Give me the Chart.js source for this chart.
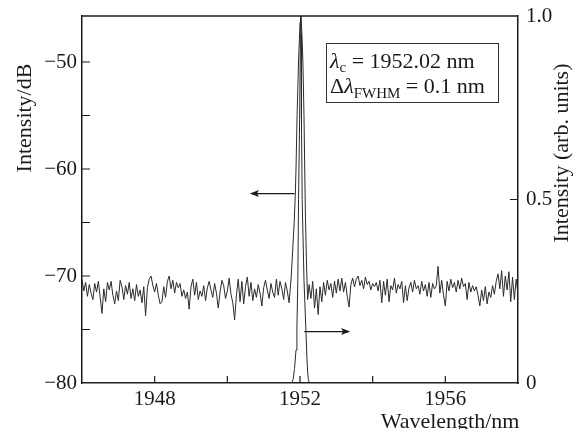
<!DOCTYPE html>
<html><head><meta charset="utf-8">
<script src="https://cdn.jsdelivr.net/npm/chart.js@4.4.0/dist/chart.umd.min.js"></script>
<style>html,body{margin:0;padding:0;background:#fff;}canvas{display:block;}</style>
</head><body>
<canvas id="c" width="573" height="429"></canvas>
<script>
// ---- data ----
const noiseStep = 0.05;
const noiseLeftStart = 1946.00;
const noiseLeftDb = [
-70.3,-71.4,-70.6,-71.9,-70.8,-71.6,-72.2,-70.7,-71.5,-70.5,
-72.0,-73.5,-71.2,-72.4,-70.6,-71.3,-70.5,-71.8,-72.6,-71.4,
-72.3,-70.4,-71.0,-72.2,-70.9,-71.7,-70.6,-72.1,-71.2,-72.3,
-70.8,-71.9,-71.3,-72.5,-71.0,-73.7,-71.1,-70.3,-70.0,-70.9,
-71.5,-70.7,-71.8,-72.6,-72.4,-71.0,-72.0,-70.5,-70.0,-71.2,
-70.4,-71.6,-70.6,-71.1,-70.7,-71.9,-71.3,-72.1,-71.5,-73.1,
-71.0,-70.3,-71.8,-70.6,-72.2,-71.4,-71.9,-70.9,-72.3,-71.1,
-70.5,-71.3,-72.0,-70.7,-71.6,-73.0,-71.5,-70.4,-70.9,-72.1,
-71.4,-70.2,-71.7,-72.5,-74.1,-71.8,-70.3,-72.4,-70.5,-72.6,
-71.0,-70.1,-71.9,-70.6,-72.3,-71.2,-72.0,-70.8,-71.6,-72.8,
-71.1,-70.4,-71.3,-72.1,-70.7,-71.5,-72.0,-70.3,-71.8,-70.5,
-71.2,-72.2,-70.6,-71.4,-72.5
];
const peakNm = [1951.76,1951.80,1951.84,1951.87,1951.89,1951.92,1951.96,1952.00,1952.02,1952.04,1952.08,1952.11,1952.13,1952.15,1952.18,1952.21];
const peakDb = [-70.0,-67.5,-65.0,-62.5,-60.0,-55.0,-50.0,-46.3,-45.7,-46.3,-50.0,-55.0,-60.0,-64.5,-69.0,-72.2];
const noiseRightStart = 1952.25;
const noiseRightDb = [
-70.8,-72.1,-70.5,-73.0,-71.2,-73.6,-71.0,-72.4,-70.6,-71.8,
-70.4,-71.3,-70.7,-72.0,-70.5,-71.6,-70.3,-71.4,-70.2,-71.5,
-70.6,-71.9,-72.9,-70.8,-70.2,-71.0,-70.3,-70.0,-70.9,-70.4,
-71.2,-70.1,-70.8,-70.5,-71.3,-70.7,-71.0,-70.6,-71.4,-70.4,
-72.5,-70.5,-71.8,-70.3,-72.4,-70.9,-71.3,-70.2,-71.6,-70.8,
-71.2,-70.5,-72.5,-70.9,-72.3,-71.1,-70.6,-71.5,-70.4,-71.2,
-70.9,-71.7,-70.5,-71.4,-70.8,-71.9,-70.6,-72.0,-70.7,-71.2,
-70.9,-69.1,-71.6,-70.4,-71.8,-72.8,-70.5,-71.4,-70.3,-71.1,
-70.6,-71.5,-70.4,-71.2,-70.2,-71.0,-70.7,-72.2,-70.6,-71.5,
-70.9,-71.4,-71.0,-71.8,-72.8,-71.3,-72.3,-71.0,-72.6,-71.5,
-72.0,-70.9,-71.7,-70.5,-69.8,-71.2,-69.5,-71.9,-70.0,-71.3,
-69.6,-72.4,-70.1,-72.2,-70.3,-71.7
];
const linNm  = [1946.0,1951.78,1951.81,1951.85,1951.89,1951.915,1951.94,1951.96,1951.99,1952.01,1952.02,1952.03,1952.04,1952.06,1952.11,1952.16,1952.19,1952.21,1952.23,1952.26,1958.0];
const linVal = [0,0,0.01,0.04,0.09,0.15,0.28,0.5,0.72,0.95,1.0,0.95,0.72,0.5,0.28,0.15,0.07,0.03,0.01,0,0];
const xTicks = [1946,1948,1950,1952,1954,1956,1958];
const xLabels = [1948,1952,1956];
const dbTicks = [-80,-75,-70,-65,-60,-55,-50];
const dbLabels = [-80,-70,-60,-50];
const linTicks = [0,0.5,1.0];
const linLabels = {0:'0',0.5:'0.5',1:'1.0'};

// ---- build datasets ----
const dbData = [];
noiseLeftDb.forEach((v,i)=>dbData.push({x:noiseLeftStart+i*noiseStep, y:v}));
peakNm.forEach((n,i)=>dbData.push({x:n, y:peakDb[i]}));
noiseRightDb.forEach((v,i)=>dbData.push({x:noiseRightStart+i*noiseStep, y:v}));
const linData = linNm.map((n,i)=>({x:n, y:linVal[i]}));

const FONT = '"Liberation Serif","Times New Roman",serif';
const INK = '#1a1a1a';

const decor = {
  id:'decor',
  afterDraw(chart){
    const {ctx, chartArea:a, scales:{x,y,y2}} = chart;
    ctx.save();
    ctx.strokeStyle = INK; ctx.fillStyle = INK;
    // top frame
    ctx.lineWidth = 1.5;
    ctx.beginPath(); ctx.moveTo(a.left, a.top); ctx.lineTo(a.right, a.top); ctx.stroke();
    // inward ticks
    ctx.lineWidth = 1.2;
    ctx.beginPath();
    xTicks.forEach(v=>{ if(v>1946 && v<1958){const px=x.getPixelForValue(v); ctx.moveTo(px,a.bottom); ctx.lineTo(px,a.bottom-7);} });
    dbTicks.forEach(v=>{ if(v>-80){const py=y.getPixelForValue(v); ctx.moveTo(a.left,py); ctx.lineTo(a.left+8,py);} });
    linTicks.forEach(v=>{ if(v>0 && v<1){const py=y2.getPixelForValue(v); ctx.moveTo(a.right,py); ctx.lineTo(a.right-8,py);} });
    ctx.stroke();
    // arrows
    const arrow=(x0,x1,py)=>{
      ctx.lineWidth=1.2;
      ctx.beginPath(); ctx.moveTo(x0,py); ctx.lineTo(x1,py); ctx.stroke();
      const d = Math.sign(x1-x0);
      ctx.beginPath(); ctx.moveTo(x1+d*1,py); ctx.lineTo(x1-d*8,py-3.5); ctx.lineTo(x1-d*6,py); ctx.lineTo(x1-d*8,py+3.5); ctx.closePath(); ctx.fill();
    };
    arrow(x.getPixelForValue(1951.85), x.getPixelForValue(1950.65), y.getPixelForValue(-62.3));
    arrow(x.getPixelForValue(1952.12), x.getPixelForValue(1953.35), y2.getPixelForValue(0.14));
    // annotation box
    ctx.lineWidth = 1;
    ctx.strokeStyle = '#333';
    ctx.strokeRect(326.5, 43.5, 172, 59);
    ctx.textBaseline = 'alphabetic'; ctx.textAlign='left';
    let cx = 330;
    const put=(t,f,dy)=>{ctx.font=f; ctx.fillText(t,cx,dy); cx+=ctx.measureText(t).width;};
    put('\u03BB','italic 22px '+FONT,68);
    put('c','15px '+FONT,72);
    put(' = 1952.02 nm','22px '+FONT,68);
    cx = 330;
    put('\u0394','22px '+FONT,93);
    put('\u03BB','italic 22px '+FONT,93);
    put('FWHM','15px '+FONT,98);
    put(' = 0.1 nm','22px '+FONT,93);
    // axis titles
    ctx.font = '22px '+FONT;
    ctx.textAlign='center';
    ctx.save(); ctx.translate(31,118); ctx.rotate(-Math.PI/2); ctx.fillText('Intensity/dB',0,0); ctx.restore();
    ctx.save(); ctx.translate(568,153); ctx.rotate(-Math.PI/2); ctx.fillText('Intensity (arb. units)',0,0); ctx.restore();
    ctx.fillText('Wavelength/nm',450,428);
    ctx.restore();
  }
};

const noVPad = s=>{s.paddingTop=0; s.paddingBottom=0;};

new Chart(document.getElementById('c'), {
  type:'line',
  data:{datasets:[
    {data:dbData, yAxisID:'y', borderColor:'#2a2a2a', borderWidth:1, pointRadius:0, tension:0, fill:false},
    {data:linData, yAxisID:'y2', borderColor:'#2a2a2a', borderWidth:1, pointRadius:0, tension:0, fill:false}
  ]},
  options:{
    responsive:false, animation:false,
    layout:{padding:{top:16,left:0,right:0,bottom:0}},
    plugins:{legend:{display:false}, tooltip:{enabled:false}},
    scales:{
      x:{type:'linear', min:1946, max:1958, position:'bottom',
        grid:{display:false, drawTicks:false},
        border:{display:true, width:1.5, color:INK},
        ticks:{autoSkip:false, maxRotation:0, padding:4, color:INK, font:{family:FONT,size:21},
          callback:v=>xLabels.includes(v)?String(v):''},
        afterBuildTicks:s=>{s.ticks = xTicks.map(v=>({value:v}));},
        afterFit:s=>{s.height=46; s.paddingLeft=0; s.paddingRight=0;}
      },
      y:{type:'linear', position:'left', min:-80, max:-45.7,
        grid:{display:false, drawTicks:false},
        border:{display:true, width:1.5, color:INK},
        ticks:{autoSkip:false, padding:5, color:INK, font:{family:FONT,size:21},
          callback:v=>dbLabels.includes(v)?'\u2212'+Math.abs(v):''},
        afterBuildTicks:s=>{s.ticks = dbTicks.map(v=>({value:v}));},
        afterFit:s=>{s.width=82; noVPad(s);}
      },
      y2:{type:'linear', position:'right', min:0, max:1,
        grid:{display:false, drawTicks:false},
        border:{display:true, width:1.5, color:INK},
        ticks:{autoSkip:false, padding:8, color:INK, font:{family:FONT,size:21},
          callback:v=>linLabels[v]!==undefined?linLabels[v]:''},
        afterBuildTicks:s=>{s.ticks = linTicks.map(v=>({value:v}));},
        afterFit:s=>{s.width=55; noVPad(s);}
      }
    }
  },
  plugins:[decor]
});
</script>
</body></html>
